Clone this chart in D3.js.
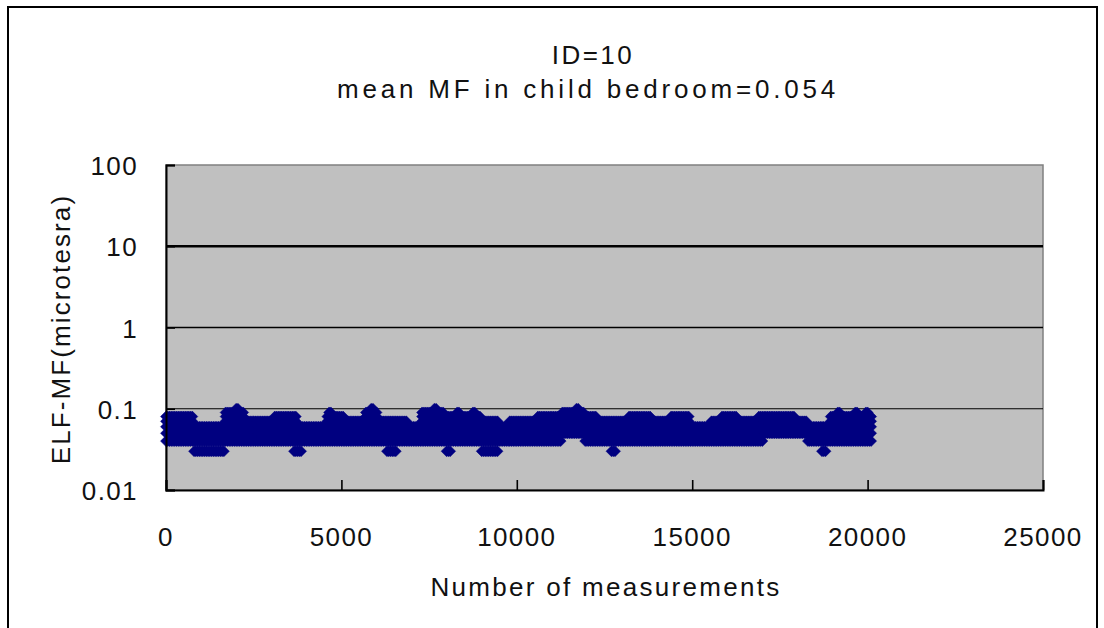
<!DOCTYPE html>
<html>
<head>
<meta charset="utf-8">
<script src="https://cdn.jsdelivr.net/npm/d3@7"></script>
<style>
  html, body { margin: 0; padding: 0; background: #fff; }
  svg text { font-family: "Liberation Sans", Arial, sans-serif; fill: #111; }
</style>
</head>
<body>
<svg id="chart" width="1104" height="628"></svg>
<script>
// ---------------- data ----------------
const titleLines = ["ID=10", "mean MF in child bedroom=0.054"];
const xAxisTitle = "Number of measurements";
const yAxisTitle = "ELF-MF(microtesra)";
const xTicks = [0, 5000, 10000, 15000, 20000, 25000];
const xTickLabels = ["0", "5000", "10000", "15000", "20000", "25000"];
const yTicks = [0.01, 0.1, 1, 10, 100];
const yTickLabels = ["0.01", "0.1", "1", "10", "100"];
// quantised meter readings (microtesla)
const readingLevels = [0.03, 0.04, 0.05, 0.06, 0.07, 0.08, 0.09, 0.1];
// ranges of measurement index with the lowest / highest reading seen in each
const blockStart = [0, 800, 1700, 2000, 2100, 2250, 3100, 3250, 3650, 3750, 3900, 4600, 4650, 4750, 5100, 5700, 5850, 5950, 6050, 6300, 6600, 6900, 7300, 7650, 7750, 7950, 8000, 8150, 8300, 8400, 8750, 8850, 9000, 9500, 9800, 10600, 11300, 11700, 11800, 11950, 12300, 12700, 12850, 12900, 13200, 13850, 14400, 14950, 15550, 15850, 16300, 16900, 17050, 17950, 18300, 18700, 18850, 18950, 19150, 19250, 19650, 19750, 19950, 20050];
const blockEnd   = [800, 1700, 2000, 2100, 2250, 3100, 3250, 3650, 3750, 3900, 4600, 4650, 4750, 5100, 5700, 5850, 5950, 6050, 6300, 6600, 6900, 7300, 7650, 7750, 7950, 8000, 8150, 8300, 8400, 8750, 8850, 9000, 9500, 9800, 10600, 11300, 11700, 11800, 11950, 12300, 12700, 12850, 12900, 13200, 13850, 14400, 14950, 15550, 15850, 16300, 16900, 17050, 17950, 18300, 18700, 18850, 18950, 19150, 19250, 19650, 19750, 19950, 20050, 20101];
const blockHigh  = [0.08, 0.06, 0.09, 0.1, 0.09, 0.07, 0.08, 0.08, 0.08, 0.06, 0.06, 0.08, 0.09, 0.08, 0.07, 0.09, 0.1, 0.09, 0.07, 0.07, 0.07, 0.06, 0.09, 0.1, 0.09, 0.08, 0.08, 0.08, 0.09, 0.08, 0.09, 0.08, 0.07, 0.06, 0.07, 0.08, 0.09, 0.1, 0.09, 0.08, 0.07, 0.07, 0.07, 0.07, 0.08, 0.07, 0.08, 0.06, 0.07, 0.08, 0.07, 0.08, 0.08, 0.07, 0.06, 0.06, 0.06, 0.08, 0.09, 0.08, 0.09, 0.08, 0.09, 0.08];
const blockLow   = [0.04, 0.03, 0.04, 0.04, 0.04, 0.04, 0.04, 0.04, 0.03, 0.03, 0.04, 0.04, 0.04, 0.04, 0.04, 0.04, 0.04, 0.04, 0.04, 0.03, 0.04, 0.04, 0.04, 0.04, 0.04, 0.04, 0.03, 0.04, 0.04, 0.04, 0.04, 0.04, 0.03, 0.04, 0.04, 0.04, 0.05, 0.05, 0.05, 0.04, 0.04, 0.03, 0.04, 0.04, 0.04, 0.04, 0.04, 0.04, 0.04, 0.04, 0.04, 0.04, 0.05, 0.05, 0.04, 0.03, 0.04, 0.04, 0.04, 0.04, 0.04, 0.04, 0.04, 0.04];
const sampleStep = 50; // measurements between plotted samples

// ---------------- layout ----------------
const svg = d3.select("#chart");
const plot = { left: 166, right: 1043, top: 165, bottom: 490 };

const x = d3.scaleLinear().domain([0, 25000]).range([plot.left, plot.right]);
const y = d3.scaleLog().domain([0.01, 100]).range([plot.bottom, plot.top]);

// outer chart frame
svg.append("rect")
  .attr("x", 8).attr("y", 7).attr("width", 1089).attr("height", 640)
  .attr("fill", "#fff").attr("stroke", "#000").attr("stroke-width", 2);

// plot area
svg.append("rect")
  .attr("x", plot.left).attr("y", plot.top)
  .attr("width", plot.right - plot.left).attr("height", plot.bottom - plot.top)
  .attr("fill", "#c0c0c0").attr("stroke", "#808080").attr("stroke-width", 1.5);

// gridlines
const gridWidth = { 10: 2.4, 1: 1.6, 0.1: 1.2 };
svg.append("g").selectAll("line")
  .data(yTicks.filter(t => t > 0.01 && t < 100))
  .join("line")
  .attr("x1", plot.left).attr("x2", plot.right)
  .attr("y1", d => y(d)).attr("y2", d => y(d))
  .attr("stroke", "#000")
  .attr("stroke-width", d => gridWidth[d]);

// data points
const points = [];
blockStart.forEach((s, i) => {
  for (let m = s; m < blockEnd[i] && m <= 20100; m += sampleStep) {
    readingLevels.forEach(v => {
      if (v >= blockLow[i] - 1e-9 && v <= blockHigh[i] + 1e-9) points.push({ m, v });
    });
  }
});
const diamond = "M0,-5.5L5.5,0L0,5.5L-5.5,0Z";
svg.append("g").selectAll("path")
  .data(points)
  .join("path")
  .attr("d", diamond)
  .attr("transform", d => `translate(${x(d.m)},${y(d.v)})`)
  .attr("fill", "#000080")
  .attr("stroke", "#000080")
  .attr("stroke-width", 0.5);

// axes (inside ticks)
const xAxis = d3.axisBottom(x).tickValues(xTicks).tickSize(-10).tickFormat(() => "");
svg.append("g").attr("transform", `translate(0,${plot.bottom})`).call(xAxis)
  .call(g => g.select(".domain").attr("stroke", "#000").attr("stroke-width", 2))
  .call(g => g.selectAll(".tick line").attr("stroke", "#000").attr("stroke-width", 1.6));
const yAxis = d3.axisLeft(y).tickValues(yTicks).tickSize(-9).tickFormat(() => "");
svg.append("g").attr("transform", `translate(${plot.left},0)`).call(yAxis)
  .call(g => g.select(".domain").attr("stroke", "#000").attr("stroke-width", 2))
  .call(g => g.selectAll(".tick line").attr("stroke", "#000").attr("stroke-width", 1.6));

// tick labels
svg.append("g").selectAll("text")
  .data(xTicks)
  .join("text")
  .attr("x", d => x(d)).attr("y", 546)
  .attr("text-anchor", "middle")
  .attr("font-size", 26).attr("letter-spacing", 1.4)
  .text((d, i) => xTickLabels[i]);
svg.append("g").selectAll("text")
  .data(yTicks)
  .join("text")
  .attr("x", 138).attr("y", d => y(d) + 10)
  .attr("text-anchor", "end")
  .attr("font-size", 26).attr("letter-spacing", 1.4)
  .text((d, i) => yTickLabels[i]);

// titles
svg.append("text").attr("x", 593).attr("y", 64).attr("text-anchor", "middle")
  .attr("font-size", 26).attr("letter-spacing", 2.5).text(titleLines[0]);
svg.append("text").attr("x", 588).attr("y", 98).attr("text-anchor", "middle")
  .attr("font-size", 26).attr("letter-spacing", 3.8).text(titleLines[1]);
svg.append("text").attr("x", 606).attr("y", 596).attr("text-anchor", "middle")
  .attr("font-size", 26).attr("letter-spacing", 2.3).text(xAxisTitle);
svg.append("text")
  .attr("transform", "translate(70,329) rotate(-90)")
  .attr("text-anchor", "middle")
  .attr("font-size", 26).attr("letter-spacing", 2.1).text(yAxisTitle);
</script>
</body>
</html>
